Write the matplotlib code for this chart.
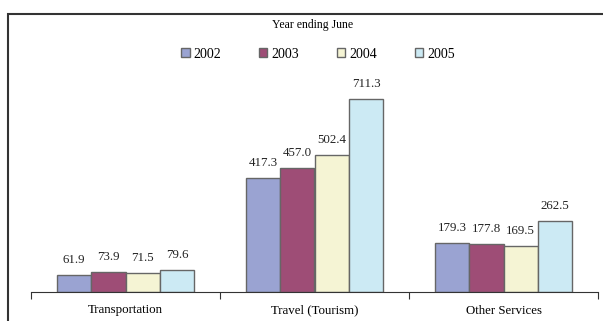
import numpy as np
import matplotlib.pyplot as plt
from matplotlib.patches import Rectangle

categories = ["Transportation", "Travel (Tourism)", "Other Services"]
years = ["2002", "2003", "2004", "2005"]
values = {
    "2002": [61.9, 417.3, 179.3],
    "2003": [73.9, 457.0, 177.8],
    "2004": [71.5, 502.4, 169.5],
    "2005": [79.6, 711.3, 262.5],
}
colors = ["#9AA3D2", "#9E4D76", "#F5F4D4", "#CCEAF4"]

plt.rcParams['font.family'] = ['Liberation Serif', 'DejaVu Serif']

fig = plt.figure(figsize=(6.03, 3.21), dpi=100)
# plot area: x 31..598 px, baseline at y=292 px
ax = fig.add_axes([31 / 603, 29 / 321, 567 / 603, 204 / 321])

x = np.arange(len(categories))
w = 0.182
for i, yr in enumerate(years):
    pos = x + (i - 1.5) * w
    bars = ax.bar(pos, values[yr], w, color=colors[i], edgecolor="#666666",
                  linewidth=1.0, label=yr)
    for b, v in zip(bars, values[yr]):
        ax.annotate(f"{v:.1f}", (b.get_x() + b.get_width() / 2, v),
                    xytext=(0, 15), textcoords="offset pixels",
                    ha="center", va="center", fontsize=9.3, color="#222222")

ax.set_xlim(-0.5, 2.5)
ax.set_ylim(0, 750)
ax.set_xticks([-0.5, 0.5, 1.5, 2.5])
ax.set_xticklabels([])
ax.set_xticks(x, minor=True)
ax.set_xticklabels(categories, minor=True, fontsize=9.3)
ax.tick_params(axis="x", which="major", length=5, direction="out", color="#333333")
ax.tick_params(axis="x", which="minor", length=0, pad=9)
ax.set_yticks([])
for s in ["left", "right", "top"]:
    ax.spines[s].set_visible(False)
ax.spines["bottom"].set_color("#333333")

fig.text(313 / 603, 1 - 25 / 321, "Year ending June", ha="center", va="center",
         fontsize=8.5)
fig.legend(loc="center", bbox_to_anchor=(318 / 603, 1 - 54 / 321), ncol=4,
           frameon=False, fontsize=10, handlelength=0.6, handleheight=0.6,
           columnspacing=2.7, handletextpad=0.3)

fig.patches.append(Rectangle((7.5 / 603, -0.1), 1.2, 1 - 13.5 / 321 + 0.1,
                             transform=fig.transFigure, fill=False,
                             edgecolor="#333333", linewidth=1.5))

fig.savefig("out.png", dpi=100)
